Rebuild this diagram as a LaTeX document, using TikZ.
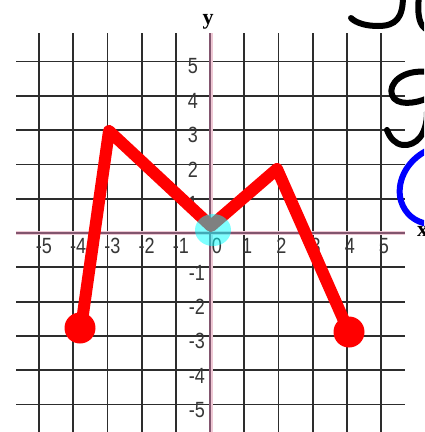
\documentclass[tikz,border=0pt]{standalone}
\usepackage{fontspec}
\setmainfont{Liberation Sans}
\newfontfamily\lblfont[FakeStretch=0.82]{Liberation Sans}
\newfontfamily\axfont{Liberation Serif}
\definecolor{gridc}{RGB}{45,45,45}
\definecolor{axpink}{RGB}{238,200,212}
\definecolor{axdark}{RGB}{130,85,110}
\definecolor{lblc}{RGB}{55,55,55}
\definecolor{plotred}{RGB}{255,0,0}
\definecolor{inkblue}{RGB}{0,0,255}
\definecolor{hcyan}{RGB}{0,255,255}
\begin{document}
\begin{tikzpicture}[x=1pt,y=-1pt,
  gridline/.style={draw=gridc, line width=1.8pt},
  axishalo/.style={draw=axpink, line width=4pt},
  axisline/.style={draw=axdark, line width=1.2pt},
  lbl/.style={inner sep=0pt, text=lblc, font=\lblfont\fontsize{22}{22}\selectfont},
  axlbl/.style={inner sep=0pt, text=black, font=\axfont\bfseries\fontsize{22}{22}\selectfont},
  plotline/.style={draw=plotred, line width=12pt, line join=round, line cap=round},
  dotpt/.style={fill=plotred},
  hilite/.style={fill=hcyan, opacity=0.5},
  inkblack/.style={draw=black, line width=6pt, line cap=round, line join=round},
  inkb/.style={draw=inkblue, line width=6pt, line cap=round, line join=round}]
\useasboundingbox (0,0) rectangle (424,432);
\clip (0,0) rectangle (424,432);
\fill[white] (0,0) rectangle (424,432);
% grid
\foreach \k in {-5,...,5} {
  \draw[gridline] ({210+34.2*\k},33) -- ({210+34.2*\k},432);
  \draw[gridline] (16,{233-34.3*\k}) -- (405,{233-34.3*\k});
}
% axes
\draw[axishalo] (16,233) -- (405,233);
\draw[axishalo] (211,33) -- (211,432);
\draw[axisline] (16,233) -- (405,233);
\draw[axisline] (210,33) -- (210,432);
\node[axlbl] (ylab) at (208,22) {y};
\node[axlbl, anchor=west] (xlab) at (417,231) {x};
% y tick labels
\foreach \k in {1,...,5} {
  \node[lbl, anchor=east] (yp\k) at (198,{233-34.3*\k+5}) {\k};
  \node[lbl, anchor=east] (yn\k) at (205,{233+34.3*\k+5.5}) {-\k};
}
% x tick labels
\foreach \k in {1,...,5} {
  \node[lbl] (xn\k) at ({210-34.2*\k+5},246) {-\k};
  \node[lbl] (xp\k) at ({210+34.2*\k+3},246) {\k};
}
\node[lbl] (x0) at (217,246) {0};
% plotted polyline
\coordinate (A) at (81,328);
\coordinate (B) at (109,131);
\coordinate (C) at (211,226);
\coordinate (D) at (277,169);
\coordinate (E) at (349,332);
\draw[plotline] (A) -- (B) -- (C) -- (D) -- (E);
\fill[dotpt] (80,328) circle[radius=15.5pt];
\fill[dotpt] (349,332) circle[radius=15.5pt];
% highlight at origin
\fill[hilite] (213,230) ellipse[x radius=18pt, y radius=16pt];
% handwriting
\draw[inkblack] (403,-4) .. controls (403,18) and (396,26) .. (378,26) .. controls (366,26) and (356,23) .. (351,18);
\draw[inkblack] (419,-4) .. controls (417,14) and (419,27) .. (428,30);
\draw[inkblack] (428,72) .. controls (402,69) and (388,84) .. (392,95) .. controls (396,106) and (415,104) .. (428,98);
\draw[inkblack] (427,112) .. controls (427,135) and (416,146) .. (403,145) .. controls (395,144) and (390,138) .. (387,130);
\draw[inkb] (428,150) .. controls (405,161) and (396,184) .. (401,201) .. controls (405,214) and (415,222) .. (428,224);
\end{tikzpicture}
\end{document}
